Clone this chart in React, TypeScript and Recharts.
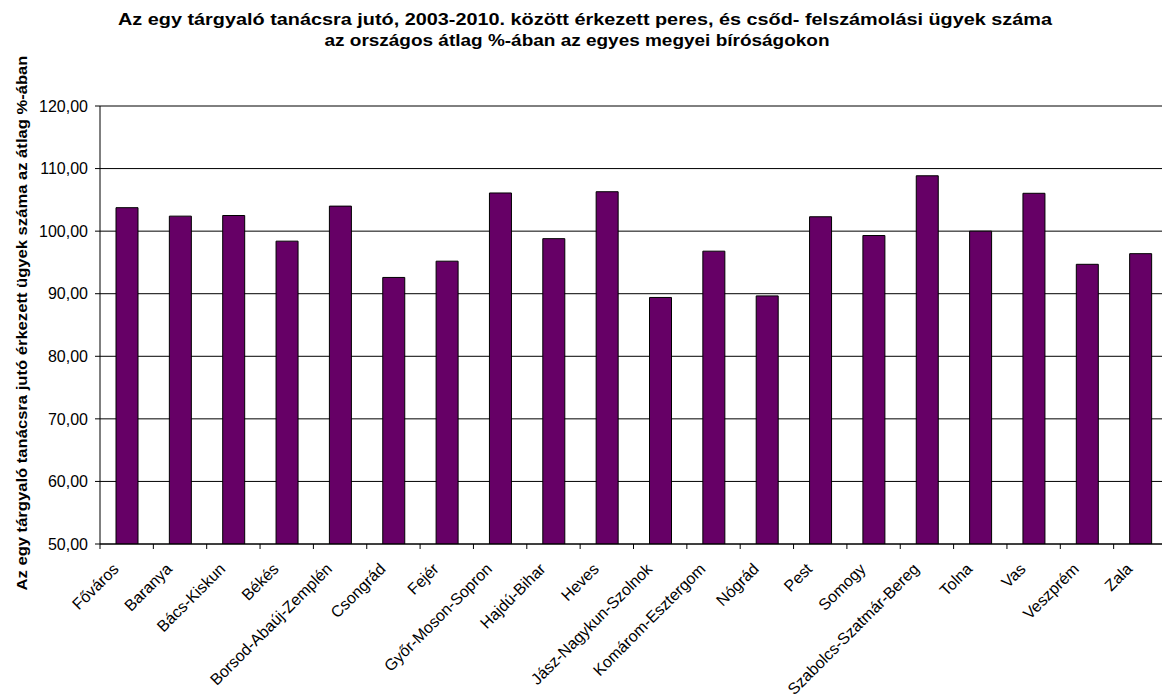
import React from 'react';
import { BarChart, Bar, XAxis, YAxis, CartesianGrid } from 'recharts';

// Megyei bíróságok (categories)
const counties = [
  'Főváros',
  'Baranya',
  'Bács-Kiskun',
  'Békés',
  'Borsod-Abaúj-Zemplén',
  'Csongrád',
  'Fejér',
  'Győr-Moson-Sopron',
  'Hajdú-Bihar',
  'Heves',
  'Jász-Nagykun-Szolnok',
  'Komárom-Esztergom',
  'Nógrád',
  'Pest',
  'Somogy',
  'Szabolcs-Szatmár-Bereg',
  'Tolna',
  'Vas',
  'Veszprém',
  'Zala',
];

// országos átlag %-ában
const percentOfAverage = [
  103.75, 102.4, 102.5, 98.4, 104.0, 92.6, 95.2, 106.1, 98.8, 106.3,
  89.4, 96.8, 89.65, 102.3, 99.3, 108.85, 100.0, 106.05, 94.7, 96.4,
];

const yTicks = [50, 60, 70, 80, 90, 100, 110, 120];

const titleLines = [
  'Az egy tárgyaló tanácsra jutó, 2003-2010. között érkezett peres, és csőd- felszámolási ügyek száma',
  'az országos átlag %-ában az egyes megyei bíróságokon',
];
const yTitle = 'Az egy tárgyaló tanácsra jutó érkezett ügyek száma az átlag %-ában';

const data = counties.map((name, i) => ({ name, value: percentOfAverage[i] }));

const FONT = '"Liberation Sans", Arial, sans-serif';
const AXIS_W = 100;
const PLOT_W = 1067;
const CHART_W = AXIS_W + PLOT_W;
const CHART_H = 698;
const BAND = PLOT_W / counties.length;

const fmt = (v: number) => v.toFixed(2).replace('.', ',');

// tick line at the category boundary + rotated label
function CountyTick({ x, y, payload }: any) {
  const ax = x - 7;
  const ay = y + 26;
  return (
    <g>
      <line x1={x - BAND / 2} y1={y} x2={x - BAND / 2} y2={y + 5} stroke="#000" />
      <text
        x={ax}
        y={ay}
        transform={`rotate(-45, ${ax}, ${ay})`}
        textAnchor="end"
        fontSize={16}
        fontFamily={FONT}
        fill="#000"
      >
        {payload.value}
      </text>
    </g>
  );
}

export default function App() {
  return (
    <div
      style={{
        position: 'absolute',
        left: 0,
        top: 0,
        width: 1162,
        height: 698,
        overflow: 'hidden',
        background: '#fff',
      }}
    >
      <BarChart
        width={CHART_W}
        height={CHART_H}
        data={data}
        margin={{ top: 106, right: 0, bottom: 0, left: 0 }}
        barCategoryGap={0}
      >
        <CartesianGrid vertical={false} stroke="#000" />
        <XAxis
          dataKey="name"
          interval={0}
          height={154}
          tickSize={0}
          tickMargin={0}
          tickLine={false}
          axisLine={{ stroke: '#000' }}
          tick={<CountyTick />}
        />
        <YAxis
          width={AXIS_W}
          domain={[50, 120]}
          ticks={yTicks}
          tickFormatter={fmt}
          tickSize={5}
          tickMargin={7}
          axisLine={{ stroke: '#000' }}
          tickLine={{ stroke: '#000' }}
          tick={{ fontSize: 16, fontFamily: FONT, fill: '#000' }}
          allowDataOverflow
        />
        <Bar
          dataKey="value"
          fill="#660066"
          stroke="#000"
          strokeWidth={1}
          barSize={22}
          isAnimationActive={false}
        />
      </BarChart>
      <svg
        width={1162}
        height={698}
        style={{ position: 'absolute', left: 0, top: 0, pointerEvents: 'none' }}
      >
        <text
          x={585}
          y={25}
          textAnchor="middle"
          fontSize={16.5}
          fontWeight="bold"
          fontFamily={FONT}
          textLength={934}
          lengthAdjust="spacingAndGlyphs"
        >
          {titleLines[0]}
        </text>
        <text
          x={577}
          y={46}
          textAnchor="middle"
          fontSize={16.5}
          fontWeight="bold"
          fontFamily={FONT}
          textLength={505}
          lengthAdjust="spacingAndGlyphs"
        >
          {titleLines[1]}
        </text>
        <text
          x={27}
          y={323}
          transform="rotate(-90, 27, 323)"
          textAnchor="middle"
          fontSize={15}
          fontWeight="bold"
          fontFamily={FONT}
          textLength={535}
          lengthAdjust="spacingAndGlyphs"
        >
          {yTitle}
        </text>
      </svg>
    </div>
  );
}
